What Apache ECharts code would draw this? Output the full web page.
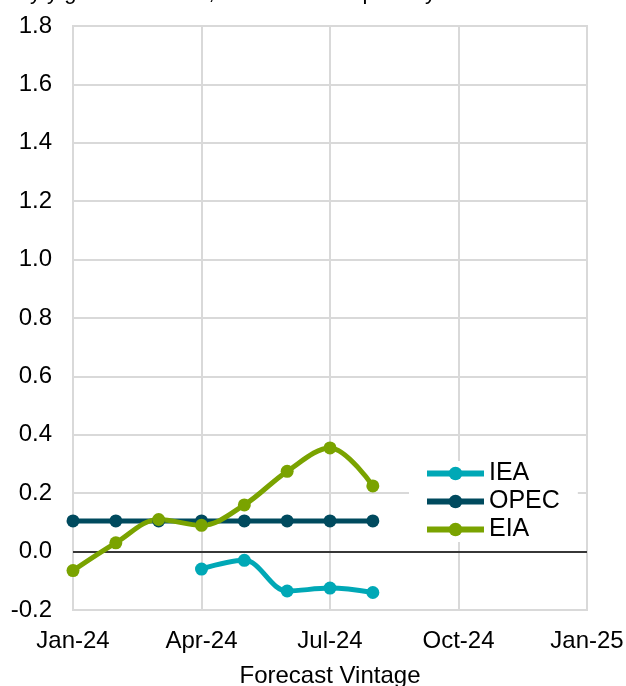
<!DOCTYPE html>
<html>
<head>
<meta charset="utf-8">
<script src="https://cdn.jsdelivr.net/npm/echarts@6/dist/echarts.min.js"></script>
<style>
  html, body { margin: 0; padding: 0; background: #fff; }
  #chart { width: 626px; height: 686px; }
</style>
</head>
<body>
<div id="chart"></div>
<script>
// forecast vintages, monthly
const months = ['Jan-24', 'Feb-24', 'Mar-24', 'Apr-24', 'May-24', 'Jun-24', 'Jul-24',
  'Aug-24', 'Sep-24', 'Oct-24', 'Nov-24', 'Dec-24', 'Jan-25']
const ieaData = [null, null, null, -0.06, -0.03, -0.135, -0.125, -0.14]
const opecData = [0.105, 0.105, 0.105, 0.105, 0.105, 0.105, 0.105, 0.105]
const eiaData = [-0.065, 0.03, 0.11, 0.09, 0.16, 0.275, 0.355, 0.225]
const yTicks = { min: -0.2, max: 1.8, step: 0.2 }
const titleText = 'y/y growth in 2025, million barrels per day'

const FONT = 'Liberation Sans, Arial, sans-serif'
const colors = { iea: '#00a8b6', opec: '#004a5e', eia: '#7aa300' }

const myChart = echarts.init(document.getElementById('chart'))

function lineSeries (name, data, color, smooth) {
  return {
    name: name,
    type: 'line',
    data: data,
    smooth: smooth,
    symbol: 'circle',
    symbolSize: 13,
    lineStyle: { color: color, width: 5 },
    itemStyle: { color: color },
    emphasis: { disabled: true },
  }
}

const opecSeries = lineSeries('OPEC', opecData, colors.opec, false)
// zero line
opecSeries.markLine = {
  silent: true,
  symbol: 'none',
  label: { show: false },
  lineStyle: { color: '#000', width: 1.5, type: 'solid' },
  data: [{ yAxis: 0 }],
  z: 1,
}

const option = {
  animation: false,
  textStyle: { fontFamily: FONT },
  graphic: [
    {
      type: 'text',
      left: 30,
      top: -18,
      style: { text: titleText, font: '22px ' + FONT, fill: '#000' },
    },
  ],
  grid: {
    left: 73,
    right: 39,
    top: 26,
    bottom: 76,
    outerBoundsMode: 'none',
    show: true,
    borderColor: '#d9d9d9',
    borderWidth: 2,
  },
  legend: {
    orient: 'vertical',
    left: 409,
    top: 461,
    padding: [0, 18, 0, 15],
    backgroundColor: '#fff',
    itemWidth: 57,
    itemHeight: 17,
    itemGap: 3,
    lineStyle: { width: 6 },
    textStyle: { fontSize: 25, color: '#000', fontFamily: FONT },
    data: ['IEA', 'OPEC', 'EIA'],
  },
  xAxis: {
    type: 'category',
    data: months,
    boundaryGap: false,
    axisLine: { show: false },
    axisTick: { show: false },
    axisLabel: { interval: 2, fontSize: 24, color: '#000', margin: 19 },
    splitLine: { show: true, interval: 2, lineStyle: { color: '#d9d9d9', width: 2 } },
    name: 'Forecast Vintage',
    nameLocation: 'middle',
    nameGap: 54,
    nameTextStyle: { fontSize: 24, color: '#000' },
  },
  yAxis: {
    type: 'value',
    min: yTicks.min,
    max: yTicks.max,
    interval: yTicks.step,
    axisLine: { show: false },
    axisTick: { show: false },
    axisLabel: {
      fontSize: 24,
      color: '#000',
      margin: 21,
      formatter: (v) => v.toFixed(1),
    },
    splitLine: { lineStyle: { color: '#d9d9d9', width: 2 } },
  },
  series: [
    lineSeries('IEA', ieaData, colors.iea, 0.35),
    opecSeries,
    lineSeries('EIA', eiaData, colors.eia, 0.35),
  ],
}

myChart.setOption(option)
</script>
</body>
</html>
